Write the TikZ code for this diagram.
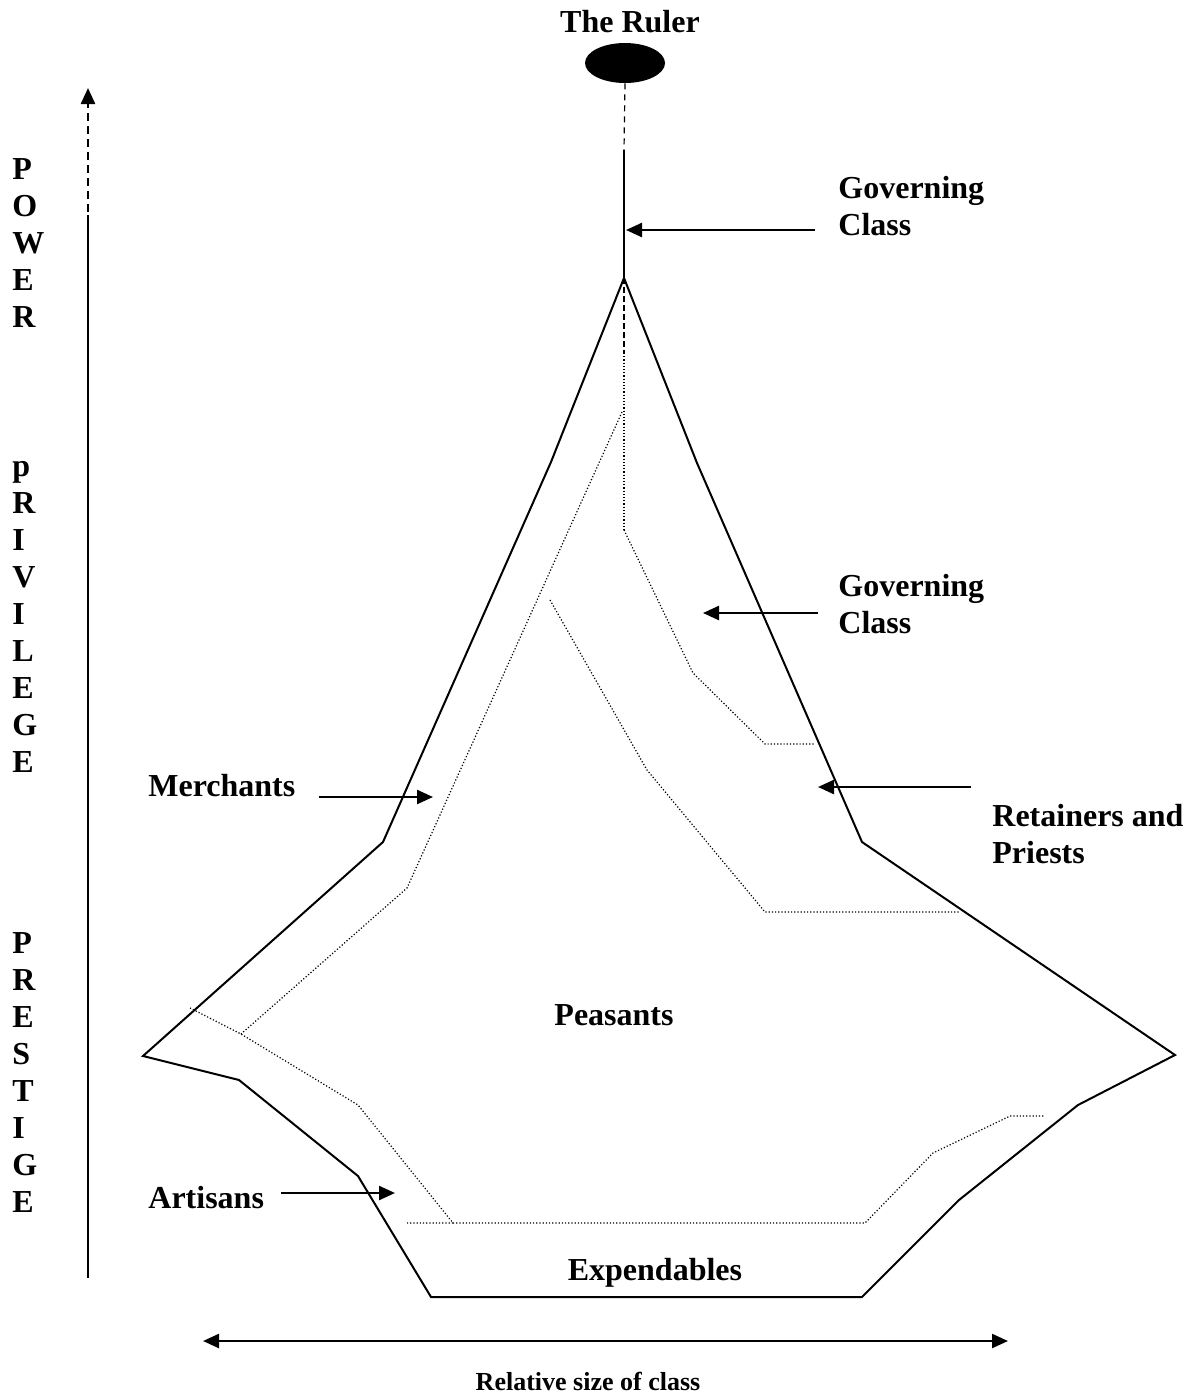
\documentclass[tikz,border=0pt]{standalone}
\usepackage{fontspec}
\setmainfont{Liberation Serif}
\usetikzlibrary{shapes.geometric,arrows.meta,positioning,calc}

\tikzset{
  outline/.style={line width=1pt, line join=miter},
  divider/.style={line width=0.6pt, dash pattern=on 0.6pt off 1pt},
  pointer/.style={line width=1.2pt, -{Triangle[length=8pt,width=7pt]}},
  classlabel/.style={align=left, inner sep=0pt, anchor=west},
  letter/.style={anchor=base west, inner sep=0pt}
}

\begin{document}
\begin{tikzpicture}[x=0.5pt, y=-0.5pt, every node/.style={font=\bfseries\fontsize{16}{18.5}\selectfont}]
  \useasboundingbox (0,0) rectangle (1191,1394);

  % left axis letters
  \foreach \ch [count=\i from 0] in {P,O,W,E,R}
    \node[letter] (pow\i) at (12,{179+37*\i}) {\ch};
  \foreach \ch [count=\i from 0] in {p,R,I,V,I,L,E,G,E}
    \node[letter] (pri\i) at (12,{476+37*\i}) {\ch};
  \foreach \ch [count=\i from 0] in {P,R,E,S,T,I,G,E}
    \node[letter] (pre\i) at (12,{953+37*\i}) {\ch};

  % power axis
  \coordinate (axbot) at (88,1278);
  \coordinate (axsol) at (88,215);
  \coordinate (axmid) at (88,355);
  \coordinate (axtop) at (88,88);
  \draw[line width=0.7pt] (axbot) -- (axsol);
  \draw[line width=1.2pt, dash pattern=on 4pt off 2.5pt, -{Triangle[length=8pt,width=7pt]}] (axmid) -- (axtop);

  % the ruler
  \node (rulertxt) at (630,22) {The Ruler};
  \node[ellipse, fill, minimum width=40pt, minimum height=20pt, inner sep=0pt] (ruler) at (625,63) {};
  \coordinate (gctop) at (624,150);
  \coordinate (apex) at (624,278);
  \coordinate (cdash) at (624,353);
  \coordinate (cdot) at (624,530);
  \draw[line width=0.6pt, dash pattern=on 3pt off 2.5pt] (ruler.south) -- (gctop);
  \draw[line width=1.2pt] (gctop) -- (apex);
  \draw[line width=0.9pt, dash pattern=on 3pt off 1.5pt] (apex) -- (cdash);
  \draw[divider] (cdash) -- (cdot);

  % outer shape of the society
  \draw[outline] (apex) -- (697,463) -- (862,842) -- (1175,1055) -- (1078,1105)
    -- (959,1200) -- (862,1297) -- (431,1297) -- (358,1176) -- (239,1080)
    -- (143,1056) -- (383,842) -- (551,462) -- cycle;

  % inner class boundaries
  \draw[divider] (cdot) -- (693,673) -- (765,744) -- (815,744);
  \draw[divider] (622,412) -- (407,888) -- (241,1034);
  \draw[divider] (550,600) -- (647,770) -- (765,912) -- (960,912);
  \draw[divider] (190,1008) -- (241,1034) -- (358,1105) -- (453,1223) -- (407,1223);
  \draw[divider] (453,1223) -- (865,1223) -- (933,1153) -- (1010,1116) -- (1045,1116);

  % class labels
  \node[classlabel] (govtop) at (838,206) {Governing\\Class};
  \node[classlabel] (govmid) at (838,604) {Governing\\Class};
  \node[classlabel] (retain) at (992,834) {Retainers and\\Priests};
  \node[classlabel] (merch) at (148,786) {Merchants};
  \node[classlabel] (artis) at (148,1198) {Artisans};
  \node (peas) at (614,1015) {Peasants};
  \node (expend) at (655,1273) {Expendables};

  \draw[pointer] (815,230) -- (626,230);
  \draw[pointer] (818,613) -- (703,613);
  \draw[pointer] (971,787) -- (818,787);
  \draw[pointer] (merch.east) ++(23,11) -- (433,797);
  \draw[pointer] (artis.east) ++(17,-5) -- (395,1193);

  % size axis
  \coordinate (sizel) at (203,1341);
  \coordinate (sizer) at (1008,1341);
  \draw[line width=1.2pt, {Triangle[length=8pt,width=7pt]}-{Triangle[length=8pt,width=7pt]}] (sizel) -- (sizer);
  \node[font=\bfseries\fontsize{13}{15}\selectfont] (sizetxt) at (588,1381) {Relative size of class};
\end{tikzpicture}
\end{document}
